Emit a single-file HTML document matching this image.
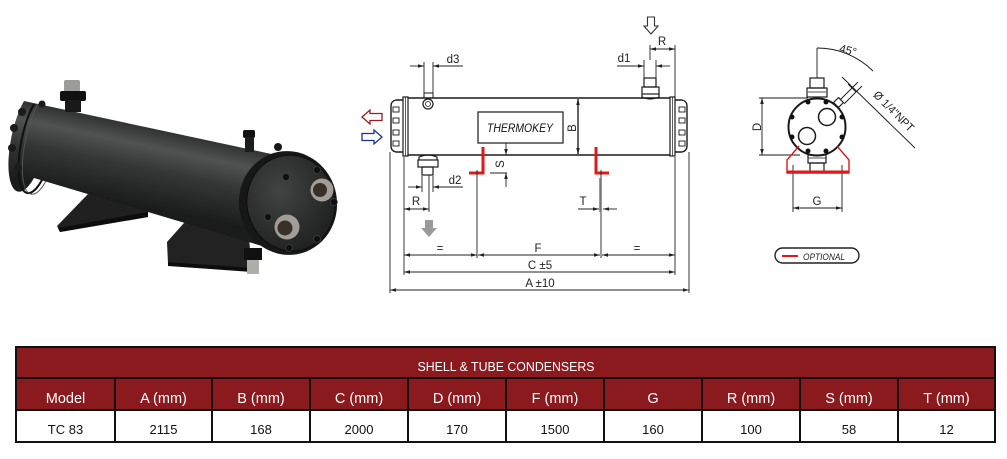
<!DOCTYPE html>
<html><head><meta charset="utf-8"><style>
html,body{margin:0;padding:0;background:#fff;}
svg{display:block;}
text{font-family:"Liberation Sans",sans-serif;}
</style></head><body>
<svg width="1007" height="459" viewBox="0 0 1007 459" xmlns="http://www.w3.org/2000/svg">
<defs>
<marker id="ar" viewBox="0 0 10 6" refX="10" refY="3" markerWidth="6" markerHeight="3.6" markerUnits="userSpaceOnUse" orient="auto-start-reverse"><path d="M0,0 L10,3 L0,6 z" fill="#222"/></marker>
<linearGradient id="cyl" gradientUnits="userSpaceOnUse" x1="40" y1="106" x2="24" y2="182">
<stop offset="0" stop-color="#323533"/><stop offset="0.22" stop-color="#505351"/><stop offset="0.5" stop-color="#353836"/><stop offset="1" stop-color="#1a1c1b"/>
</linearGradient>
<radialGradient id="capg" cx="0.4" cy="0.35" r="0.7">
<stop offset="0" stop-color="#414442"/><stop offset="1" stop-color="#1e201f"/>
</radialGradient>
</defs>

<!-- ===== PHOTO ===== -->
<g>
<polygon points="57,226 88,194 140,204 148,212 148,217 60,232" fill="#1f201f"/>
<polygon points="58,228 148,212 148,217 60,232" fill="#0c0d0c"/>
<polygon points="167,242 192,214 248,228 252,270 168,264" fill="#212221"/>
<polygon points="168,262 252,268 252,272 168,266" fill="#0c0d0c"/>
<path d="M24,101 L290,158 L262,246 L34,178 A13,39 12 0 1 24,101 Z" fill="url(#cyl)"/>
<path d="M34,104 A12,38 12 0 0 42,180" fill="none" stroke="#0f100f" stroke-width="2"/>
<path d="M38,104 A12,38 12 0 0 46,181" fill="none" stroke="#505351" stroke-width="1"/>
<circle cx="14" cy="128" r="4" fill="#1a1b1a"/>
<circle cx="12" cy="148" r="4" fill="#1a1b1a"/>
<circle cx="18" cy="168" r="4" fill="#1a1b1a"/>
<circle cx="22" cy="112" r="4" fill="#1a1b1a"/>
<circle cx="42" cy="104" r="3.5" fill="#1a1b1a"/>
<!-- right end cap -->
<ellipse cx="288" cy="203" rx="49" ry="52" transform="rotate(-10 288 203)" fill="#161716"/>
<ellipse cx="291" cy="203" rx="44" ry="48" transform="rotate(-10 291 203)" fill="url(#capg)" stroke="#0d0e0d"/>
<circle cx="322" cy="190" r="11.5" fill="#a29d96"/>
<circle cx="320" cy="190" r="7" fill="#3a302a"/>
<circle cx="287" cy="227" r="12.5" fill="#a29d96"/>
<circle cx="285" cy="228" r="7.5" fill="#3a302a"/>
<g fill="#0f100f" stroke="#4a4d4b" stroke-width="0.6">
<circle cx="286" cy="177" r="3.5"/><circle cx="317" cy="170" r="3.5"/><circle cx="334" cy="202" r="3.5"/>
<circle cx="317" cy="239" r="3.5"/><circle cx="289" cy="248" r="3.5"/><circle cx="268" cy="217" r="3.5"/>
</g>
<!-- fittings -->
<rect x="64" y="80" width="16" height="12" rx="2" fill="#9c9c98"/>
<rect x="60" y="91" width="26" height="10" rx="2" fill="#111"/>
<rect x="65" y="100" width="16" height="12" fill="#181918"/>
<rect x="243" y="130" width="12" height="8" rx="2" fill="#111"/>
<rect x="245" y="137" width="9" height="15" fill="#1c1d1c"/>
<circle cx="278" cy="147" r="4" fill="#161716"/>
<rect x="244" y="248" width="18" height="12" fill="#111"/>
<rect x="247" y="260" width="12" height="14" fill="#b0aeaa"/>
</g>

<!-- ===== SIDE DRAWING ===== -->
<g stroke="#1a1a1a" fill="none">
<line x1="408" y1="98" x2="670" y2="98" stroke-width="1.6"/>
<line x1="408" y1="155" x2="670" y2="155" stroke-width="1.6"/>
<rect x="403" y="97" width="5" height="59" stroke-width="1.2"/>
<line x1="405.5" y1="97" x2="405.5" y2="156" stroke-width="0.7"/>
<path d="M403,100 L396,100 Q391,101 391,106 L391,146 Q391,151 396,152 L403,152" stroke-width="1.4"/>
<rect x="393" y="107" width="6" height="5" stroke-width="0.9"/>
<rect x="393" y="118" width="6" height="5" stroke-width="0.9"/>
<rect x="393" y="130" width="6" height="5" stroke-width="0.9"/>
<rect x="393" y="141" width="6" height="5" stroke-width="0.9"/>
<rect x="670" y="97" width="5" height="59" stroke-width="1.2"/>
<line x1="672.5" y1="97" x2="672.5" y2="156" stroke-width="0.7"/>
<path d="M675,100 L682,100 Q687,101 687,106 L687,146 Q687,151 682,152 L675,152" stroke-width="1.4"/>
<rect x="679" y="107" width="6" height="5" stroke-width="0.9"/>
<rect x="679" y="118" width="6" height="5" stroke-width="0.9"/>
<rect x="679" y="130" width="6" height="5" stroke-width="0.9"/>
<rect x="679" y="141" width="6" height="5" stroke-width="0.9"/>
<rect x="478" y="112" width="85" height="31" stroke-width="1.2"/>
<rect x="424" y="93" width="9" height="5" stroke-width="1"/>
<circle cx="428" cy="104" r="5" stroke-width="1.2"/>
<circle cx="428" cy="104" r="2.5" stroke-width="0.8"/>
<rect x="644" y="78" width="12" height="9" stroke-width="1.2"/>
<rect x="642" y="87" width="17" height="7" stroke-width="1.2"/>
<path d="M642,94 L642,97 Q650,101 659,97 L659,94" stroke-width="1.2"/>
<path d="M419,160 L419,157 Q428,153 437,157 L437,160" stroke-width="1.2"/>
<rect x="418" y="160" width="20" height="7" stroke-width="1.2"/>
<rect x="422" y="167" width="11" height="8" stroke-width="1.2"/>
</g>
<text x="520" y="132" font-family="Liberation Serif" font-style="italic" font-size="12" text-anchor="middle" textLength="66" lengthAdjust="spacingAndGlyphs" fill="#111">THERMOKEY</text>

<g stroke="#e01818" stroke-width="3" fill="none">
<path d="M483,147 L483,173 L469,173"/>
<path d="M596,147 L596,173 L609,173"/>
</g>

<g stroke="#222" stroke-width="0.9" fill="none">
<line x1="390" y1="152" x2="390" y2="293"/>
<line x1="404" y1="157" x2="404" y2="275"/>
<line x1="675" y1="45" x2="675" y2="97"/>
<line x1="675" y1="157" x2="675" y2="275"/>
<line x1="689" y1="152" x2="689" y2="293"/>
<line x1="477" y1="170" x2="477" y2="258"/>
<line x1="601" y1="170" x2="601" y2="258"/>
<line x1="429" y1="175" x2="429" y2="212"/>
<line x1="390" y1="290" x2="689" y2="290" marker-start="url(#ar)" marker-end="url(#ar)"/>
<line x1="404" y1="272" x2="675" y2="272" marker-start="url(#ar)" marker-end="url(#ar)"/>
<line x1="404" y1="255" x2="477" y2="255" marker-start="url(#ar)" marker-end="url(#ar)"/>
<line x1="478" y1="255" x2="600" y2="255" marker-start="url(#ar)" marker-end="url(#ar)"/>
<line x1="602" y1="255" x2="675" y2="255" marker-start="url(#ar)" marker-end="url(#ar)"/>
<line x1="404" y1="209" x2="429" y2="209" marker-start="url(#ar)" marker-end="url(#ar)"/>
<line x1="422" y1="176" x2="422" y2="192"/>
<line x1="433" y1="176" x2="433" y2="192"/>
<line x1="408" y1="187" x2="422" y2="187" marker-end="url(#ar)"/>
<line x1="463" y1="187" x2="433" y2="187" marker-end="url(#ar)"/>
<line x1="424" y1="62" x2="424" y2="93"/>
<line x1="433" y1="62" x2="433" y2="93"/>
<line x1="410" y1="66" x2="424" y2="66" marker-end="url(#ar)"/>
<line x1="463" y1="66" x2="433" y2="66" marker-end="url(#ar)"/>
<line x1="644" y1="60" x2="644" y2="78"/>
<line x1="656" y1="60" x2="656" y2="78"/>
<line x1="617" y1="66" x2="644" y2="66" marker-end="url(#ar)"/>
<line x1="670" y1="66" x2="656" y2="66" marker-end="url(#ar)"/>
<line x1="650" y1="45" x2="650" y2="60"/>
<line x1="650" y1="49" x2="675" y2="49" marker-start="url(#ar)" marker-end="url(#ar)"/>
<line x1="578" y1="99" x2="578" y2="154" stroke-width="1.4" marker-start="url(#ar)" marker-end="url(#ar)"/>
<line x1="490" y1="155" x2="507" y2="155"/>
<line x1="490" y1="173" x2="507" y2="173"/>
<line x1="506" y1="143" x2="506" y2="155" marker-end="url(#ar)"/>
<line x1="506" y1="187" x2="506" y2="173" marker-end="url(#ar)"/>
<line x1="578" y1="209" x2="599" y2="209" marker-end="url(#ar)"/>
<line x1="617" y1="209" x2="603" y2="209" marker-end="url(#ar)"/>
</g>
<line x1="600.5" y1="178" x2="600.5" y2="212" stroke="#777" stroke-width="2.5"/>

<g font-size="11.5" fill="#222" text-anchor="middle">
<text x="540" y="287">A ±10</text>
<text x="540" y="269">C ±5</text>
<text x="440" y="252">=</text>
<text x="538" y="252">F</text>
<text x="637" y="252">=</text>
<text x="416" y="205">R</text>
<text x="583" y="205">T</text>
<text x="455" y="184">d2</text>
<text x="453" y="63">d3</text>
<text x="624" y="62">d1</text>
<text x="662" y="45">R</text>
<text transform="translate(576,128) rotate(-90)">B</text>
<text transform="translate(504,164) rotate(-90)">S</text>
</g>

<path d="M362,117 L370,110 L370,113.5 L382,113.5 L382,120.5 L370,120.5 L370,124 Z" fill="#fff" stroke="#9b1b1b" stroke-width="1.3"/>
<path d="M382,137 L374,130 L374,133.5 L362,133.5 L362,140.5 L374,140.5 L374,144 Z" fill="#fff" stroke="#1f3390" stroke-width="1.3"/>
<path d="M651,34 L644,26 L647.5,26 L647.5,17 L654.5,17 L654.5,26 L658,26 Z" fill="#fff" stroke="#333" stroke-width="1.1"/>
<path d="M429,237 L421,228 L425,228 L425,220 L433,220 L433,228 L437,228 Z" fill="#9a9a9a"/>

<!-- ===== END VIEW ===== -->
<g stroke="#1a1a1a" fill="none">
<circle cx="817" cy="127" r="28.5" stroke-width="2"/>
<circle cx="827" cy="117" r="8.5" stroke-width="1.5"/>
<circle cx="807" cy="136" r="8.5" stroke-width="1.5"/>
<rect x="810" y="78" width="14" height="10" stroke-width="1.2"/>
<rect x="807" y="88" width="20" height="9" stroke-width="1.2"/>
<line x1="808" y1="92" x2="826" y2="92" stroke-width="0.8"/>
<rect x="808" y="155" width="18" height="8" stroke-width="1.2"/>
<line x1="808" y1="158" x2="826" y2="158" stroke-width="0.8"/>
<rect x="810" y="163" width="14" height="9" stroke-width="1.2"/>
<rect x="835" y="99" width="7" height="7" transform="rotate(45 838.5 102.5)" stroke-width="1.1"/>
<line x1="817" y1="48" x2="817" y2="78" stroke-width="0.9"/>
<path d="M817,48 A79,79 0 0 1 873,71" stroke-width="0.9"/>
<line x1="842" y1="77" x2="915" y2="148" stroke-width="0.9"/>
<line x1="840" y1="100" x2="858" y2="82" stroke-width="0.9"/>
<line x1="844" y1="104" x2="862" y2="86" stroke-width="0.9"/>
<line x1="848" y1="84" x2="856" y2="92" stroke-width="0.9"/>
<line x1="759" y1="98" x2="808" y2="98" stroke-width="0.9"/>
<line x1="759" y1="155" x2="800" y2="155" stroke-width="0.9"/>
<line x1="762" y1="98" x2="762" y2="155" stroke-width="0.9" marker-start="url(#ar)" marker-end="url(#ar)"/>
<line x1="793" y1="165" x2="793" y2="212" stroke-width="0.9"/>
<line x1="842" y1="165" x2="842" y2="212" stroke-width="0.9"/>
<line x1="793" y1="208" x2="842" y2="208" stroke-width="0.9" marker-start="url(#ar)" marker-end="url(#ar)"/>
</g>
<g fill="#111">
<circle cx="808" cy="102" r="2.5"/><circle cx="826" cy="102" r="2.5"/>
<circle cx="842" cy="117" r="2.5"/><circle cx="842" cy="137" r="2.5"/>
<circle cx="826" cy="151" r="2.5"/><circle cx="808" cy="151" r="2.5"/>
<circle cx="792" cy="137" r="2.5"/><circle cx="792" cy="117" r="2.5"/>
</g>
<path d="M799,146 L787,160 L787,173 L849,173 L849,160 L837,146" fill="none" stroke="#e01818" stroke-width="1.4"/>
<line x1="787" y1="172" x2="849" y2="172" stroke="#e01818" stroke-width="3"/>
<g font-size="11.5" fill="#222" text-anchor="middle">
<text x="817" y="205">G</text>
<text transform="translate(761,127) rotate(-90)">D</text>
<text transform="translate(847,54) rotate(15)">45°</text>
<text transform="translate(891,114) rotate(45)" textLength="52" lengthAdjust="spacingAndGlyphs">Ø 1/4"NPT</text>
</g>
<rect x="775" y="248" width="84" height="15" rx="7.5" fill="none" stroke="#222" stroke-width="1.4"/>
<line x1="782" y1="256" x2="798" y2="256" stroke="#e01818" stroke-width="2"/>
<text x="803" y="260" font-size="9" font-style="italic" fill="#222" textLength="42" lengthAdjust="spacingAndGlyphs">OPTIONAL</text>

<!-- ===== TABLE ===== -->
<rect x="16" y="347" width="979" height="63" fill="#8b1a1f"/>
<rect x="16" y="410" width="979" height="32" fill="#fff"/>
<g stroke="#111" stroke-width="2" fill="none">
<rect x="16" y="347" width="979" height="95"/>
<line x1="16" y1="378" x2="995" y2="378"/>
<line x1="16" y1="410" x2="995" y2="410"/>
<line x1="115" y1="378" x2="115" y2="442"/>
<line x1="212" y1="378" x2="212" y2="442"/>
<line x1="310" y1="378" x2="310" y2="442"/>
<line x1="408" y1="378" x2="408" y2="442"/>
<line x1="506" y1="378" x2="506" y2="442"/>
<line x1="604" y1="378" x2="604" y2="442"/>
<line x1="702" y1="378" x2="702" y2="442"/>
<line x1="800" y1="378" x2="800" y2="442"/>
<line x1="898" y1="378" x2="898" y2="442"/>
</g>
<text x="506" y="371" font-size="12.5" fill="#fff" text-anchor="middle" textLength="177" lengthAdjust="spacingAndGlyphs">SHELL &amp; TUBE CONDENSERS</text>
<g font-size="14.5" fill="#fff" text-anchor="middle">
<text x="65.5" y="403">Model</text>
<text x="163.5" y="403">A (mm)</text>
<text x="261" y="403">B (mm)</text>
<text x="359" y="403">C (mm)</text>
<text x="457" y="403">D (mm)</text>
<text x="555" y="403">F (mm)</text>
<text x="653" y="403">G</text>
<text x="751" y="403">R (mm)</text>
<text x="849" y="403">S (mm)</text>
<text x="946.5" y="403">T (mm)</text>
</g>
<g font-size="13" fill="#111" text-anchor="middle">
<text x="65.5" y="434">TC 83</text>
<text x="163.5" y="434">2115</text>
<text x="261" y="434">168</text>
<text x="359" y="434">2000</text>
<text x="457" y="434">170</text>
<text x="555" y="434">1500</text>
<text x="653" y="434">160</text>
<text x="751" y="434">100</text>
<text x="849" y="434">58</text>
<text x="946.5" y="434">12</text>
</g>
</svg>
</body></html>
